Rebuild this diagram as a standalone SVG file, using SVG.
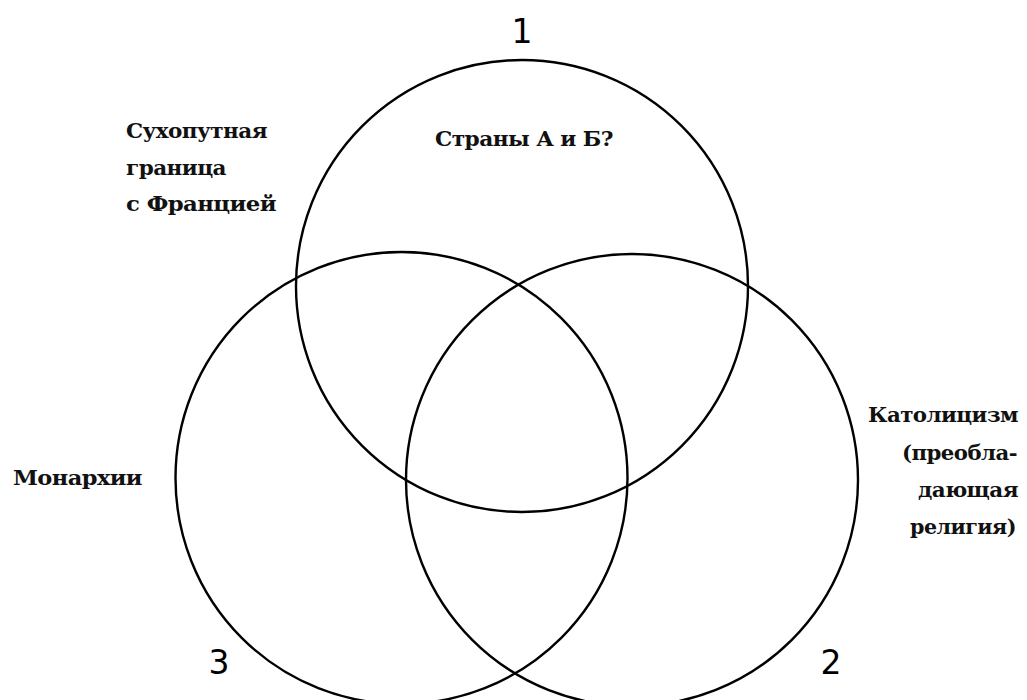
<svg xmlns="http://www.w3.org/2000/svg" width="1027" height="700" viewBox="0 0 1027 700">
<style>
.c{fill:none;stroke:#000;stroke-width:2.4}
.t{font-family:"DejaVu Serif","Liberation Serif",serif;font-size:20px;font-weight:bold;fill:#111;letter-spacing:-0.5px}
.n{font-family:"DejaVu Sans","Liberation Sans",sans-serif;font-size:33px;fill:#000}
</style>
<rect width="1027" height="700" fill="#fff"/>
<g id="circle1"><circle class="c" cx="522" cy="286" r="226"/></g>
<g id="circle2"><circle class="c" cx="632" cy="480" r="226"/></g>
<g id="circle3"><circle class="c" cx="401.5" cy="478" r="226"/></g>
<g id="labels">
<text class="n" x="522" y="43" text-anchor="middle">1</text>
<text class="n" x="219" y="674" text-anchor="middle">3</text>
<text class="n" x="831" y="674" text-anchor="middle">2</text>
<text class="t" x="435" y="146" textLength="178" lengthAdjust="spacingAndGlyphs">Страны А и Б?</text>
<text class="t" x="126" y="138" textLength="141" lengthAdjust="spacingAndGlyphs">Сухопутная</text>
<text class="t" x="126" y="175" textLength="100" lengthAdjust="spacingAndGlyphs">граница</text>
<text class="t" x="126" y="211" textLength="150" lengthAdjust="spacingAndGlyphs">с Францией</text>
<text class="t" x="13" y="485" textLength="129" lengthAdjust="spacingAndGlyphs">Монархии</text>
<text class="t" x="868" y="422" textLength="150" lengthAdjust="spacingAndGlyphs">Католицизм</text>
<text class="t" x="902" y="460" textLength="115" lengthAdjust="spacingAndGlyphs">(преобла-</text>
<text class="t" x="918" y="497" textLength="100" lengthAdjust="spacingAndGlyphs">дающая</text>
<text class="t" x="910" y="534" textLength="106" lengthAdjust="spacingAndGlyphs">религия)</text>
</g>
</svg>
